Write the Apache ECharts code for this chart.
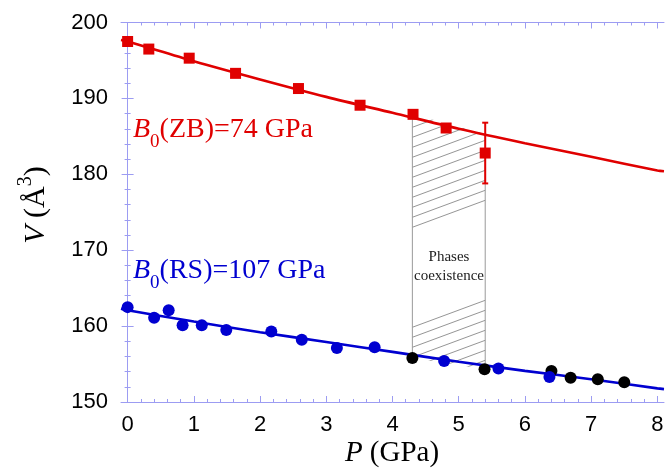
<!DOCTYPE html>
<html>
<head>
<meta charset="utf-8">
<script src="https://cdn.jsdelivr.net/npm/echarts@6/dist/echarts.min.js"></script>
<style>
  html, body { margin: 0; padding: 0; background: #fff; }
  #chart { width: 669px; height: 468px; }
</style>
</head>
<body>
<div id="chart"></div>
<script>
// 数据
var zbP = [0, 0.32, 0.93, 1.63, 2.58, 3.51, 4.31, 4.81, 5.40];
var zbV = [197.5, 196.5, 195.3, 193.3, 191.3, 189.1, 187.9, 186.1, 182.8];
// 误差棒 (仅最后一个点)
var zbErrP = [5.40];
var zbErrLow = [178.8];
var zbErrHigh = [186.8];

var rsP = [0, 0.40, 0.62, 0.83, 1.12, 1.49, 2.17, 2.63, 3.16, 3.73, 4.78, 5.60, 6.37];
var rsV = [162.5, 161.1, 162.1, 160.1, 160.1, 159.5, 159.3, 158.2, 157.1, 157.2, 155.4, 154.4, 153.3];

var blackP = [4.30, 5.39, 6.40, 6.69, 7.10, 7.50];
var blackV = [155.8, 154.3, 154.1, 153.2, 153.0, 152.6];

// 拟合曲线
var fitP = [-0.1, 0, 1, 2, 3, 4, 5, 6, 7, 8, 8.1];
var zbFitV = [197.7, 197.5, 194.9, 192.5, 190.2, 188.1, 186.0, 184.1, 182.3, 180.5, 180.4];
var rsFitV = [162.3, 162.1, 160.6, 159.2, 157.9, 156.6, 155.3, 154.1, 153.0, 151.8, 151.7];

// 两相共存区
var coexLeftP = [4.3, 4.3], coexLeftV = [187.9, 155.8];
var coexRightP = [5.4, 5.4], coexRightV = [185.35, 154.3];
var hatchUpperP = [4.3, 5.4, 5.4, 4.3], hatchUpperV = [187.9, 185.35, 175.9, 172.4];
var hatchLowerP = [4.3, 5.4, 5.4, 4.3], hatchLowerV = [161.0, 164.5, 154.3, 155.8];

var xTicks = [0, 1, 2, 3, 4, 5, 6, 7, 8];

var RED = '#e00000', BLUE = '#0000d0', AXIS = '#9c9cf2';
var SERIF = '"Liberation Serif", "Times New Roman", serif';
var SANS = '"Liberation Sans", Arial, sans-serif';

function zip(a, b) {
    return a.map(function(v, i) { return [v, b[i]]; });
}

// 斜线填充
var pc = document.createElement('canvas');
pc.width = 27; pc.height = 10;
var pctx = pc.getContext('2d');
pctx.strokeStyle = '#7a7a7a';
pctx.lineWidth = 0.8;
for (var k = -1; k <= 1; k++) {
    pctx.beginPath();
    pctx.moveTo(-5, 10 + 5 * 10 / 27 + k * 10);
    pctx.lineTo(32, 10 - 32 * 10 / 27 + k * 10);
    pctx.stroke();
}

var minorX = [];
for (var m = 0; m <= 40; m++) {
    if (m % 5 !== 0) minorX.push(m / 5);
}

function xAxisDef(pos, ticks, len, showLine) {
    return {
        type: 'value', position: pos, min: -0.1, max: 8.1,
        axisLine: { show: showLine, lineStyle: { color: AXIS, width: 1 } },
        axisTick: { show: true, inside: true, length: len, customValues: ticks, lineStyle: { color: AXIS } },
        axisLabel: pos === 'bottom' && showLine ? {
            show: true, customValues: xTicks, color: '#000', fontSize: 22, fontFamily: SANS, margin: 12
        } : { show: false },
        splitLine: { show: false }
    };
}

function yAxisDef(pos, labels) {
    return {
        type: 'value', position: pos, min: 150, max: 200, interval: 10,
        axisLine: { show: true, lineStyle: { color: AXIS, width: 1 } },
        axisTick: { show: true, inside: true, length: 6, lineStyle: { color: AXIS } },
        minorTick: { show: true, splitNumber: 5, length: 3, lineStyle: { color: AXIS } },
        axisLabel: { show: labels, color: '#000', fontSize: 22, fontFamily: SANS, margin: 13 },
        splitLine: { show: false }
    };
}

var chart = echarts.init(document.getElementById('chart'), null, { renderer: 'canvas' });

chart.setOption({
    animation: false,
    backgroundColor: '#fff',
    grid: { left: 121, right: 5, top: 22.5, bottom: 66 },
    xAxis: [
        xAxisDef('bottom', xTicks, 6, true),
        xAxisDef('bottom', minorX, 3, false),
        xAxisDef('top', xTicks, 6, true),
        xAxisDef('top', minorX, 3, false)
    ],
    yAxis: [yAxisDef('left', true), yAxisDef('right', false)],
    graphic: [
        {
            type: 'text', x: 133, y: 116,
            style: {
                text: '{i|B}{s|0}{n|(ZB)=74 GPa}', fill: RED, verticalAlign: 'top',
                rich: {
                    i: { fontSize: 28, fontFamily: SERIF, fontStyle: 'italic', lineHeight: 28, verticalAlign: 'top', fill: RED },
                    s: { fontSize: 19, fontFamily: SERIF, lineHeight: 19, padding: [17, 0, 0, 0], verticalAlign: 'top', fill: RED },
                    n: { fontSize: 28, fontFamily: SERIF, lineHeight: 28, verticalAlign: 'top', fill: RED }
                }
            }
        },
        {
            type: 'text', x: 133, y: 257,
            style: {
                text: '{i|B}{s|0}{n|(RS)=107 GPa}', fill: BLUE, verticalAlign: 'top',
                rich: {
                    i: { fontSize: 28, fontFamily: SERIF, fontStyle: 'italic', lineHeight: 28, verticalAlign: 'top', fill: BLUE },
                    s: { fontSize: 19, fontFamily: SERIF, lineHeight: 19, padding: [17, 0, 0, 0], verticalAlign: 'top', fill: BLUE },
                    n: { fontSize: 28, fontFamily: SERIF, lineHeight: 28, verticalAlign: 'top', fill: BLUE }
                }
            }
        },
        {
            type: 'text', x: 449, y: 248,
            style: {
                text: 'Phases\ncoexistence', fill: '#222', font: '15px ' + SERIF,
                align: 'center', verticalAlign: 'top', lineHeight: 19
            }
        },
        {
            type: 'text', x: 392, y: 439,
            style: {
                text: '{i|P}{n| (GPa)}', fill: '#000', align: 'center', verticalAlign: 'top',
                rich: {
                    i: { fontSize: 29, fontFamily: SERIF, fontStyle: 'italic', lineHeight: 29, fill: '#000' },
                    n: { fontSize: 29, fontFamily: SERIF, lineHeight: 29, fill: '#000' }
                }
            }
        },
        {
            type: 'text', x: 31, y: 205, rotation: Math.PI / 2,
            style: {
                text: '{i|V}{n| (Å}{u|3}{n|)}', fill: '#000', align: 'center', verticalAlign: 'middle',
                rich: {
                    i: { fontSize: 30, fontFamily: SERIF, fontStyle: 'italic', lineHeight: 30, padding: [5, 0, 0, 0], verticalAlign: 'top', fill: '#000' },
                    n: { fontSize: 30, fontFamily: SERIF, lineHeight: 30, padding: [5, 0, 0, 0], verticalAlign: 'top', fill: '#000' },
                    u: { fontSize: 20, fontFamily: SERIF, lineHeight: 20, verticalAlign: 'top', fill: '#000' }
                }
            }
        }
    ],
    series: [
        {
            name: 'hatch', type: 'custom', z: 1,
            data: [[0], [1]],
            renderItem: function(params, api) {
                var ps = params.dataIndex === 0 ? hatchUpperP : hatchLowerP;
                var vs = params.dataIndex === 0 ? hatchUpperV : hatchLowerV;
                var pts = ps.map(function(p, i) { return api.coord([p, vs[i]]); });
                return {
                    type: 'polygon',
                    shape: { points: pts },
                    style: { fill: { image: pc, repeat: 'repeat' }, stroke: null }
                };
            }
        },
        {
            type: 'line', data: zip(coexLeftP, coexLeftV), symbol: 'none', z: 2,
            lineStyle: { color: '#999', width: 1 }
        },
        {
            type: 'line', data: zip(coexRightP, coexRightV), symbol: 'none', z: 2,
            lineStyle: { color: '#999', width: 1 }
        },
        {
            name: 'ZB fit', type: 'line', data: zip(fitP, zbFitV), smooth: 0.3, symbol: 'none', z: 3,
            lineStyle: { color: RED, width: 2.6 }
        },
        {
            name: 'RS fit', type: 'line', data: zip(fitP, rsFitV), smooth: 0.3, symbol: 'none', z: 3,
            lineStyle: { color: BLUE, width: 2.6 }
        },
        {
            name: 'err', type: 'custom', z: 4,
            data: zbErrP.map(function(p, i) { return [p, zbErrLow[i], zbErrHigh[i]]; }),
            renderItem: function(params, api) {
                var lo = api.coord([api.value(0), api.value(1)]);
                var hi = api.coord([api.value(0), api.value(2)]);
                var st = { stroke: RED, lineWidth: 2 };
                return {
                    type: 'group',
                    children: [
                        { type: 'line', shape: { x1: lo[0], y1: lo[1], x2: hi[0], y2: hi[1] }, style: st },
                        { type: 'line', shape: { x1: lo[0] - 3, y1: lo[1], x2: lo[0] + 3, y2: lo[1] }, style: st },
                        { type: 'line', shape: { x1: hi[0] - 3, y1: hi[1], x2: hi[0] + 3, y2: hi[1] }, style: st }
                    ]
                };
            }
        },
        {
            name: 'ZB', type: 'scatter', data: zip(zbP, zbV), symbol: 'rect', symbolSize: 11, z: 5,
            itemStyle: { color: RED, opacity: 1 }
        },
        {
            name: 'black', type: 'scatter', data: zip(blackP, blackV), symbol: 'circle', symbolSize: 12, z: 5,
            itemStyle: { color: '#000', opacity: 1 }
        },
        {
            name: 'RS', type: 'scatter', data: zip(rsP, rsV), symbol: 'circle', symbolSize: 12, z: 6,
            itemStyle: { color: BLUE, opacity: 1 }
        }
    ]
});
</script>
</body>
</html>
